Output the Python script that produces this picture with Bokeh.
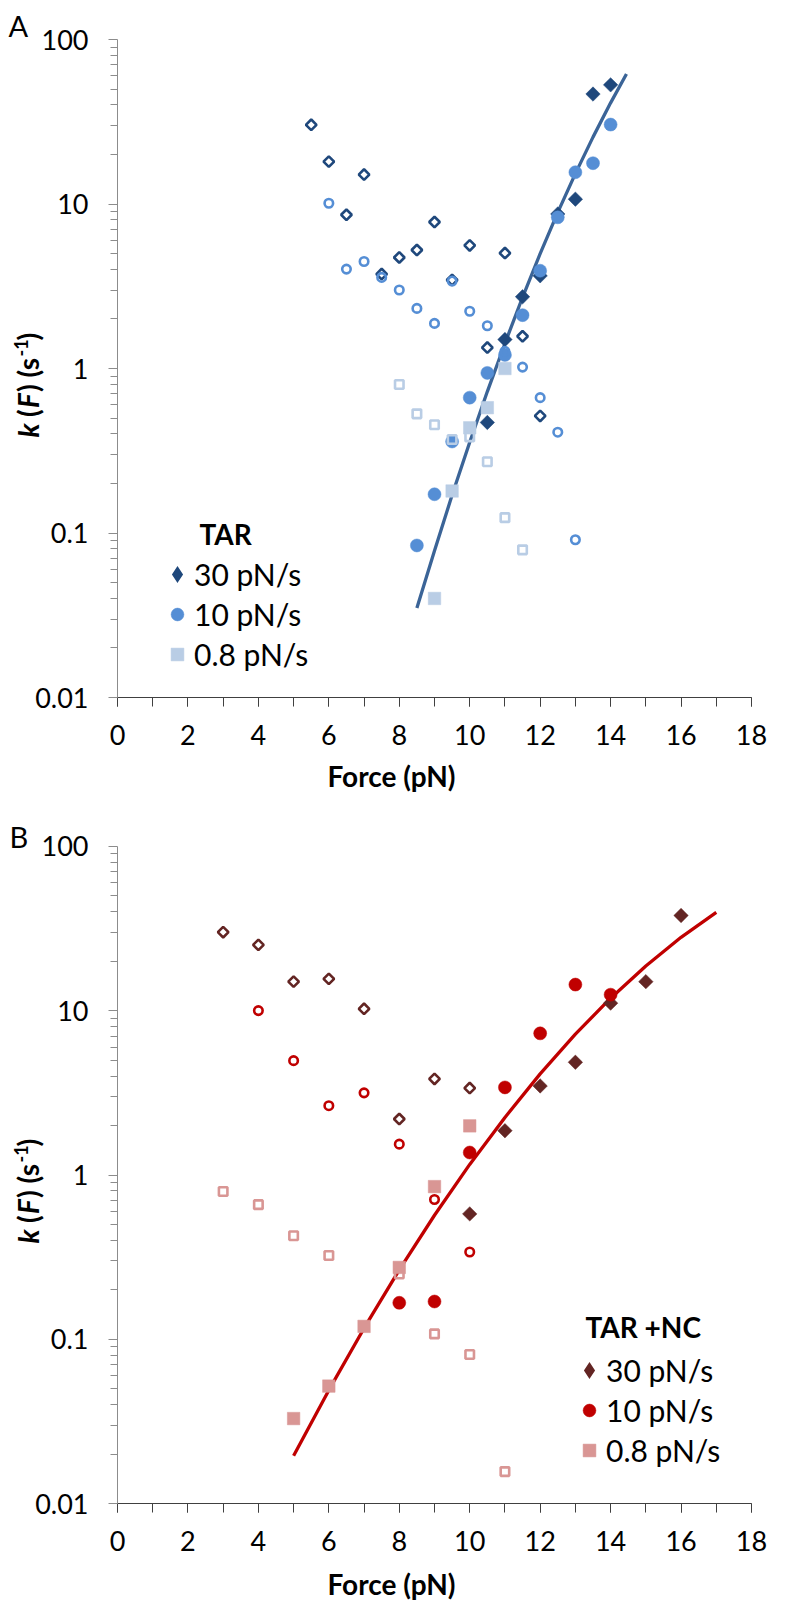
import math
from bokeh.plotting import figure
from bokeh.models import Range1d, FixedTicker, SingleIntervalTicker, Label, Legend, LegendItem
from bokeh.layouts import column
from bokeh.embed import file_html
from bokeh.resources import INLINE

FONT = "Lato"

# ---------------- axis ticks ----------------
force_range = [0, 18]
k_range = [0.01, 100]
k_ticks = [0.01, 0.1, 1, 10, 100]
k_tick_labels = ["0.01", "0.1", "1", "10", "100"]
k_minor = [m * d for d in [0.01, 0.1, 1, 10] for m in [2, 3, 4, 5, 6, 7, 8, 9]]

# ---------------- Panel A: TAR ----------------
a30_fill_F = [10.5, 11, 11.5, 12, 12.5, 13, 13.5, 14]
a30_fill_k = [0.47, 1.5, 2.73, 3.66, 8.7, 10.7, 46.6, 53]
a30_open_F = [5.5, 6, 6.5, 7, 7.5, 8, 8.5, 9, 9.5, 10, 10.5, 11, 11.5, 12]
a30_open_k = [30.3, 18.1, 8.6, 15.1, 3.75, 4.73, 5.25, 7.77, 3.45, 5.6, 1.34, 5.03, 1.57, 0.515]
a10_fill_F = [8.5, 9, 9.5, 10, 10.5, 11, 11.5, 12, 12.5, 13, 13.5, 14]
a10_fill_k = [0.084, 0.172, 0.36, 0.665, 0.94, 1.21, 2.11, 3.93, 8.3, 15.6, 17.7, 30.4]
a10_open_F = [6, 6.5, 7, 7.5, 8, 8.5, 9, 9.5, 10, 10.5, 11, 11.5, 12, 12.5, 13]
a10_open_k = [10.1, 4.02, 4.47, 3.58, 3.0, 2.32, 1.88, 3.4, 2.23, 1.82, 1.27, 1.02, 0.665, 0.41, 0.091]
a08_fill_F = [9, 9.5, 10, 10.5, 11]
a08_fill_k = [0.040, 0.18, 0.436, 0.578, 1.0]
a08_open_F = [8, 8.5, 9, 9.5, 10, 10.5, 11, 11.5]
a08_open_k = [0.80, 0.53, 0.455, 0.37, 0.384, 0.271, 0.124, 0.079]
a_fit_F = [8.5, 9, 9.5, 10, 10.5, 11, 11.5, 12, 12.5, 13, 13.5, 14, 14.45]
a_fit_k = [0.035, 0.078, 0.170, 0.356, 0.724, 1.42, 2.71, 4.99, 8.89, 15.3, 25.5, 41.2, 61.7]

# ---------------- Panel B: TAR + NC ----------------
b30_fill_F = [10, 11, 12, 13, 14, 15, 16]
b30_fill_k = [0.58, 1.86, 3.48, 4.85, 11.1, 15.0, 37.9]
b30_open_F = [3, 4, 5, 6, 7, 8, 9, 10]
b30_open_k = [30, 25.1, 15.0, 15.6, 10.25, 2.19, 3.84, 3.38]
b10_fill_F = [8, 9, 10, 11, 12, 13, 14]
b10_fill_k = [0.167, 0.170, 1.37, 3.41, 7.27, 14.4, 12.5]
b10_open_F = [4, 5, 6, 7, 8, 9, 10]
b10_open_k = [10.0, 4.96, 2.64, 3.16, 1.54, 0.71, 0.34]
b08_fill_F = [5, 6, 7, 8, 9, 10]
b08_fill_k = [0.033, 0.052, 0.12, 0.274, 0.85, 1.99]
b08_open_F = [3, 4, 5, 6, 8, 9, 10, 11]
b08_open_k = [0.794, 0.66, 0.427, 0.324, 0.25, 0.108, 0.081, 0.0157]
b_fit_F = [5, 6, 7, 8, 9, 10, 11, 12, 13, 14, 15, 16, 17]
b_fit_k = [0.0196, 0.0491, 0.117, 0.265, 0.569, 1.16, 2.24, 4.12, 7.19, 11.9, 18.7, 27.9, 39.6]

series_labels = ["30 pN/s", "10 pN/s", "0.8 pN/s"]

W = 787


def make_panel(letter, title, H, ax_left, ax_right, ax_top, ax_bottom, colors, line_color,
               data, fit, legend_xy, title_xy, letter_xy, ylab_xy, xlab_xy):
    # the frame fills the whole canvas; axes are pinned at F=0 and k=0.01
    ppx = (ax_right - ax_left) / (force_range[1] - force_range[0])
    x0 = force_range[0] - ax_left / ppx
    x1 = force_range[1] + (W - ax_right) / ppx
    lmin, lmax = math.log10(k_range[0]), math.log10(k_range[1])
    ppd = (ax_bottom - ax_top) / (lmax - lmin)
    y0 = 10 ** (lmin - (H - ax_bottom) / ppd)
    y1 = 10 ** (lmax + ax_top / ppd)

    p = figure(width=W, height=H, y_axis_type="log",
               x_range=Range1d(x0, x1), y_range=Range1d(y0, y1),
               output_backend="svg", toolbar_location=None, min_border=0)
    p.outline_line_color = None
    p.xgrid.visible = False
    p.ygrid.visible = False
    p.background_fill_color = "white"
    p.border_fill_color = "white"

    # x axis
    xa = p.xaxis[0]
    xa.fixed_location = k_range[0]
    xa.bounds = tuple(force_range)
    xa.ticker = SingleIntervalTicker(interval=2, num_minor_ticks=2)
    xa.axis_line_color = "#404040"
    xa.major_tick_line_color = "#404040"
    xa.minor_tick_line_color = "#404040"
    xa.major_tick_in = 0
    xa.major_tick_out = 9
    xa.minor_tick_in = 0
    xa.minor_tick_out = 9
    xa.major_label_text_font = FONT
    xa.major_label_text_font_size = "27px"
    xa.major_label_text_color = "black"
    xa.major_label_standoff = 18

    # y axis
    ya = p.yaxis[0]
    ya.fixed_location = force_range[0]
    ya.bounds = tuple(k_range)
    ya.ticker = FixedTicker(ticks=k_ticks, minor_ticks=k_minor)
    ya.major_label_overrides = {t: s for t, s in zip(k_ticks, k_tick_labels)}
    ya.axis_line_color = "#8C8C8C"
    ya.major_tick_line_color = "#8C8C8C"
    ya.minor_tick_line_color = "#8C8C8C"
    ya.major_tick_in = 0
    ya.major_tick_out = 9
    ya.minor_tick_in = 0
    ya.minor_tick_out = 7
    ya.major_label_text_font = FONT
    ya.major_label_text_font_size = "27px"
    ya.major_label_text_color = "black"
    ya.major_label_standoff = 20

    c30, c10, c08 = colors
    (f30F, f30k, o30F, o30k, f10F, f10k, o10F, o10k, f08F, f08k, o08F, o08k) = data

    # fit line
    p.line(fit[0], fit[1], line_color=line_color, line_width=3.3)

    p.scatter(f30F, f30k, marker="square", angle=math.pi / 4, size=10.2,
              fill_color=c30, line_color=c30, line_width=0.5)
    p.scatter(o30F, o30k, marker="square", angle=math.pi / 4, size=7.5,
              fill_color=None, line_color=c30, line_width=2.6)
    r10 = p.scatter(f10F, f10k, marker="circle", size=13,
                    fill_color=c10, line_color=c10, line_width=0.5)
    p.scatter(o10F, o10k, marker="circle", size=8.5,
              fill_color=None, line_color=c10, line_width=2.6)
    r08 = p.scatter(f08F, f08k, marker="square", size=12.5,
                    fill_color=c08, line_color=c08, line_width=0.5)
    p.scatter(o08F, o08k, marker="square", size=8.5,
              fill_color=None, line_color=c08, line_width=2.6)
    # hidden copy of the diamond series, only used for its legend swatch
    r30_leg = p.scatter(f30F, f30k, marker="diamond", size=10,
                        fill_color=c30, line_color=c30, line_width=2.2,
                        line_join="miter", visible=False)

    legend = Legend(items=[LegendItem(label=series_labels[0], renderers=[r30_leg]),
                           LegendItem(label=series_labels[1], renderers=[r10]),
                           LegendItem(label=series_labels[2], renderers=[r08])],
                    location=legend_xy, orientation="vertical",
                    glyph_width=32, glyph_height=40, label_height=40, spacing=0,
                    padding=0, margin=0, label_standoff=1,
                    label_text_font=FONT, label_text_font_size="30px",
                    label_text_color="black",
                    border_line_color=None, background_fill_alpha=0)
    p.add_layout(legend, "center")

    def text(x, y, s, size, style="normal", align="left", angle=0.0):
        p.add_layout(Label(x=x, y=y, x_units="screen", y_units="screen",
                           text=s, text_font=FONT, text_font_size=size,
                           text_font_style=style, text_color="black", angle=angle,
                           text_align=align, text_baseline="middle"))

    # legend title, panel letter, x axis title
    text(title_xy[0], title_xy[1], title, "28px", "bold")
    text(letter_xy[0], letter_xy[1], letter, "29px")
    text(xlab_xy[0], xlab_xy[1], "Force (pN)", "28px", "bold", align="center")

    # y axis title, built from pieces (rotated, reading upwards)
    # (text, style, size, shift across the line, advance along the line)
    pieces = [("k", "bold italic", "28px", 0, 20.5),
              ("(", "bold", "28px", 0, 9.0),
              ("F", "bold italic", "28px", 0, 16.0),
              (")", "bold", "28px", 0, 14.5),
              ("(s", "bold", "28px", 0, 21.0),
              ("-1", "bold", "18px", -7, 16.0),
              (")", "bold", "28px", 0, 9.0)]
    ypos = ylab_xy[1]
    for txt, style, size, dx, w in pieces:
        text(ylab_xy[0] + dx, ypos, txt, size, style, angle=math.pi / 2)
        ypos += w
    return p


# geometry (canvas pixels): axis corners
pA = make_panel("A", "TAR", 800, 117, 751, 39, 697,
                ("#1F487C", "#558ED5", "#B9CDE5"), "#3B6497",
                (a30_fill_F, a30_fill_k, a30_open_F, a30_open_k,
                 a10_fill_F, a10_fill_k, a10_open_F, a10_open_k,
                 a08_fill_F, a08_fill_k, a08_open_F, a08_open_k),
                (a_fit_F, a_fit_k),
                legend_xy=(161, 126), title_xy=(199, 267), letter_xy=(8, 775),
                ylab_xy=(27, 363), xlab_xy=(391, 25))

pB = make_panel("B", "TAR +NC", 802, 117, 751, 45.7, 703.3,
                ("#632523", "#C00000", "#D99694"), "#C00000",
                (b30_fill_F, b30_fill_k, b30_open_F, b30_open_k,
                 b10_fill_F, b10_fill_k, b10_open_F, b10_open_k,
                 b08_fill_F, b08_fill_k, b08_open_F, b08_open_k),
                (b_fit_F, b_fit_k),
                legend_xy=(573, 132), title_xy=(585, 276), letter_xy=(9, 766),
                ylab_xy=(27, 359), xlab_xy=(391, 19))

layout = column(pA, pB, spacing=0)
open("out.html", "w").write(file_html(layout, INLINE))
